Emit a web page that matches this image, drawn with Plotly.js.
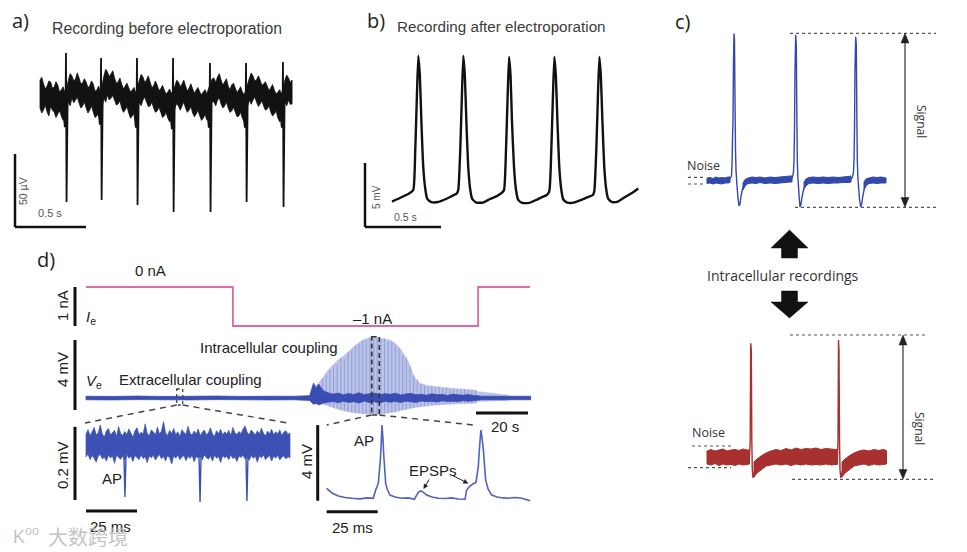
<!DOCTYPE html>
<html><head><meta charset="utf-8">
<script src="https://cdn.plot.ly/plotly-3.0.1.min.js"></script>
<style>html,body{margin:0;padding:0;background:#fff}#chart{width:967px;height:552px}</style>
</head><body><div id="chart"></div>
<script>
// ---------------- DATA ----------------
// a) extracellular recording before electroporation (t in s, V in µV)
const aT = [0,0.0125,0.025,0.0375,0.05,0.0625,0.075,0.0875,0.1,0.1125,0.125,0.1375,0.15,0.1625,0.175,0.1875,0.2,0.2125,0.225,0.2375,0.25,0.2625,0.275,0.2875,0.3,0.3125,0.325,0.3375,0.35,0.3625,0.375,0.3875,0.4,0.4125,0.425,0.4375,0.45,0.4625,0.475,0.4875,0.5,0.5125,0.525,0.5375,0.55,0.5625,0.575,0.5875,0.6,0.6125,0.625,0.6375,0.65,0.6625,0.675,0.6875,0.7,0.7125,0.725,0.7375,0.75,0.7625,0.775,0.7875,0.8,0.8125,0.825,0.8375,0.85,0.8625,0.875,0.8875,0.9,0.9125,0.925,0.9375,0.95,0.9625,0.975,0.9875,1,1.0125,1.025,1.0375,1.05,1.0625,1.075,1.0875,1.1,1.1125,1.125,1.1375,1.15,1.1625,1.175,1.1875,1.2,1.2125,1.225,1.2375,1.25,1.2625,1.275,1.2875,1.3,1.3125,1.325,1.3375,1.35,1.3625,1.375,1.3875,1.4,1.4125,1.425,1.4375,1.45,1.4625,1.475,1.4875,1.5,1.5125,1.525,1.5375,1.55,1.5625,1.575,1.5875,1.6,1.6125,1.625,1.6375,1.65,1.6625,1.675,1.6875,1.7,1.7125,1.725,1.7375,1.75,1.7625,1.775];
const aNoiseUp = [11.6,13.5,8.9,5.5,7.5,11,10.3,6,6.8,10.5,8.2,3.5,4.8,7,3.4,6,11.6,16,14.4,11,12.3,16.5,13.0,9,9.6,12.5,10.3,6.5,7.5,11,8.9,4,4.8,7.5,3.4,8,14.4,19,17.1,14,15.8,18,13.0,9.5,10.3,13,8.9,5.5,7.5,9.5,6.2,3.5,4.8,6.5,2.7,7,11.6,15.5,13.7,10,11.6,14.5,10.3,6.5,7.5,11,8.2,4.5,5.5,8,4.8,2,3.4,5.5,2.1,5,7.5,11.5,10.3,7,8.9,11.5,7.5,4,6.2,9,5.5,2.5,4.8,6.5,3.4,1.5,3.4,5,2.1,6,8.9,12.5,13.0,10,13.7,16,11.6,8,10.3,12.5,7.5,5,8.2,9.5,6.2,3,4.8,7,3.4,1.5,4.8,9,13.0,16.5,14.4,11,11.6,14.5,11.6,8,8.9,10.5,7.5,4.5,6.2,8.5,4.8,2,3.4,5,2.1,6,11.6,15,13.0,10,11.6];
const aNoiseLo = [-7.5,-11,-8.9,-5.5,-10.3,-13,-6.2,-9,-10.3,-14,-11.6,-9.5,-13.0,-16,-14.4,-8,-3.4,-6,-0.7,-4,-2.1,0,-4.1,-7.5,-6.2,-3.5,-7.5,-11,-8.9,-6,-10.3,-14,-13.0,-11,-14.4,-7,-0.7,-3.5,1.4,-2,-0.7,1,-2.1,-5.5,-4.8,-2.5,-7.5,-10.5,-8.9,-6.5,-11.0,-14.5,-13.0,-11,-15.8,-9,-3.4,-6,-2.1,0,-3.4,-6.5,-6.2,-3.5,-7.5,-10.5,-9.6,-7,-10.3,-14,-13.0,-10.5,-14.4,-17,-15.8,-11,-7.5,-4.5,-6.2,-9,-6.2,-3.5,-7.5,-10.5,-8.9,-6.5,-11.0,-13.5,-11.6,-9,-13.0,-16,-14.4,-12,-15.8,-10,-6.2,-3,-3.4,-6,-2.1,-0.5,-4.8,-7.5,-6.2,-3.5,-7.5,-10.5,-9.6,-7,-10.3,-13.5,-13.0,-10.5,-14.4,-17,-11.6,-6,-2.1,-5,-2.1,0,-3.4,-6.5,-4.8,-2.5,-6.2,-9,-8.2,-6,-10.3,-13,-11.6,-9.5,-14.4,-17,-15.8,-9,-3.4,-6,-2.1,-5,-4.8];
const aSpikeT = [0.163,0.175,0.180,0.183,0.187,0.195,null,0.410,0.422,0.427,0.430,0.434,0.442,null,0.663,0.675,0.680,0.683,0.687,0.695,null,0.917,0.929,0.934,0.937,0.941,0.949,null,1.177,1.189,1.194,1.197,1.201,1.209,null,1.431,1.443,1.448,1.451,1.455,1.463,null,1.691,1.703,1.708,1.711,1.715,1.723];
const aSpikeV = [-8,-20.6,-6,30.1,-71.9,2,null,-8,-19,-6,26.7,-70.6,4,null,-9,-21,-7,26.7,-74.0,2,null,-10,-22,-8,26.7,-78.8,2,null,-9,-21,-7,23.3,-78.8,3,null,-9,-21,-7,23.3,-71.9,3,null,-9,-21,-7,24.0,-75.4,3];

// b) recording after electroporation (t in s, V in mV)
const bT = [0,0.039,0.079,0.118,0.140,0.153,0.163,0.173,0.183,0.193,0.206,0.220,0.232,0.259,0.303,0.355,0.395,0.426,0.436,0.449,0.459,0.469,0.479,0.489,0.502,0.515,0.528,0.555,0.599,0.645,0.691,0.722,0.737,0.750,0.760,0.770,0.780,0.789,0.803,0.816,0.829,0.855,0.901,0.947,0.987,1.018,1.035,1.048,1.058,1.068,1.078,1.088,1.101,1.114,1.127,1.153,1.197,1.243,1.289,1.322,1.331,1.344,1.354,1.364,1.374,1.384,1.397,1.410,1.423,1.449,1.487,1.533,1.579,1.620];
const bV = [-0.12,0.08,0.31,0.55,0.78,3.91,7.81,11.25,9.77,6.25,2.50,0.78,0.08,-0.16,-0.16,0.08,0.31,0.51,0.78,3.91,7.81,11.25,9.77,6.25,2.50,0.78,0.08,-0.20,-0.20,0.08,0.31,0.55,0.78,3.91,7.81,11.17,9.69,6.25,2.50,0.78,0.04,-0.23,-0.23,0.00,0.23,0.39,0.70,3.91,7.81,11.17,9.69,6.25,2.50,0.78,0.04,-0.20,-0.20,0.00,0.23,0.39,0.70,3.91,7.81,11.17,9.69,6.25,2.50,0.78,0.08,-0.16,-0.12,0.23,0.55,0.90];

// c) intracellular recordings, blue (t in ms, V in mV)
const cBlueNoiseT  = [0,1.5,3,4.5,6,7.5,9,10.5,11.5,null,18,19,20.5,22.5,24.5,26.5,29,31.5,34,36.5,39,41.5,42.5,null,48.5,49.5,51,53,55.5,58,60.5,63,65.5,68,70.5,72,null,78.5,79.5,81,83,85,87,89.5];
const cBlueNoiseUp = [1.25,1.5,1,1.75,1.25,1.5,1.25,1.75,1.75,null,-1.25,0.5,1.25,1.75,1.5,1.75,1.25,1.75,1.5,1.75,2,2.25,2.25,null,-0.75,0.75,1.5,1.75,1.5,1.75,1.5,1.75,1.5,1.75,2,2.25,null,-0.75,0.75,1.25,1.75,1.5,1.75,1.25];
const cBlueNoiseLo = [-1.5,-1.25,-1.75,-1.25,-1.5,-1.75,-1.25,-1.25,-1,null,-4.75,-2.75,-1.5,-1.25,-1.5,-1,-1.5,-1.25,-1.5,-1.25,-1,-0.75,-0.75,null,-4.25,-2.5,-1.5,-1.25,-1.5,-1.25,-1.5,-1.25,-1.25,-1,-1,-0.75,null,-4.25,-2.5,-1.5,-1.25,-1.5,-1.25,-1.25];
const cBlueSpikeT = [11,11.75,12.25,12.5,12.75,13,13.25,13.5,13.75,14,14.25,14.5,14.75,15,15.5,16,16.5,17,17.75,18.5,19.5,20.5,null,42,42.75,43.25,43.5,43.75,44,44.35,44.65,44.9,45.15,45.4,45.75,46.15,46.5,47,47.5,48.25,49,50,51,null,72,72.75,73.25,73.5,73.75,74,74.35,74.65,74.9,75.15,75.4,75.75,76.25,76.85,77.35,77.85,78.5,79.25,80.25,81.25];
const cBlueSpikeV = [0.25,1.25,2.25,7.75,20.25,30.25,60.25,73.5,70.25,40.25,15.25,5.25,1.25,-2.75,-8.75,-12.75,-11.75,-7.75,-4.25,-2.25,-1,-0.25,null,0.5,1.75,4.25,10.25,25.25,55.25,72.75,67.75,35.25,10.25,2.25,-2.75,-9.25,-13.25,-11.75,-8.25,-4.75,-2.75,-1.25,-0.25,null,0.5,1.75,4.25,10.25,25.25,55.25,71.9,67.75,35.25,10.25,2.25,-2.75,-9.25,-13.25,-11.75,-8.25,-4.75,-2.75,-1.25,-0.25];

// c) intracellular recordings, red (t in ms, V in mV)
const cRedNoiseT  = [0,2,4,6,8,10,12,14,16,18,20,21.25,null,23.5,25,27,29.5,32,34.5,37,39.5,42,44.5,47,49.5,52,54.5,57,59.5,62,64.5,65.25,null,67.5,69,71,73.5,76,78.5,81,83.5,86,88,89.75];
const cRedNoiseUp = [3.25,4,3.25,3.75,4.25,3.25,3.75,4,3.5,4.25,3.75,3.75,null,-2.25,-0.75,0.75,2.25,3.25,4,3.5,4.5,3.75,4.75,4,4.5,4.25,4.75,4,4.5,4.25,4,4,null,-2.25,-0.75,0.75,2.25,3.25,3.75,3.25,4,3.5,4,3.5];
const cRedNoiseLo = [-3.25,-3.75,-3,-4,-3.25,-3.75,-3.5,-4,-3.25,-3.75,-3.5,-3.25,null,-9.75,-7.75,-6.25,-4.25,-3.75,-3.25,-3.75,-3.25,-4,-3.25,-3.75,-3.25,-3.75,-3.5,-3.75,-3.25,-3.75,-3.5,-3.5,null,-9.75,-7.75,-6.25,-4.25,-3.75,-3.25,-4,-3.25,-3.75,-3.5,-3.25];
const cRedSpikeT = [21.25,21.6,21.85,22.15,22.4,22.65,23,23.5,24.25,null,65.25,65.5,65.75,66,66.25,66.5,66.9,67.4,68.15];
const cRedSpikeV = [0.25,8.75,57.1,53.75,8.75,-6.25,-10.25,-8.25,-5.25,null,0.25,8.75,58.75,53.75,8.75,-6.25,-10.25,-8.25,-5.25];

// d) current step Ie (t in s, I in nA)
const ieT = [0,56.5,150.8,170.8];
const ieI = [0,-1,0,0];
// d) Ve burst envelope (t in s, V in mV)
const burstUpT = [86.9,87.4,89.2,91.2,93.1,95.0,96.9,98.8,100.8,102.3,103.8,105.4,106.9,108.5,110.0,111.9,114.2,116.9,118.8,120.8,122.3,124.0,125.0,125.9,127.3,128.5,131.5,134.9,138.1,141.3,145.4,149.6,150.9,152.3,157.3,162.3,163.8];
const burstUpV = [0,0.69,0.80,1.20,1.60,1.89,2.17,2.36,2.63,2.84,3.03,3.22,3.34,3.43,3.46,3.46,3.40,3.31,3.14,2.84,2.51,2.07,1.71,1.31,1.03,0.84,0.71,0.65,0.60,0.55,0.51,0.46,0.36,0.34,0.26,0.17,0];
const burstLoT = [86.9,87.4,91.2,95.0,100.3,103.8,107.9,113.1,118.2,121.9,125.9,134.9,141.9,149.6,150.9,157.3,162.3,163.8];
const burstLoV = [0,-0.34,-0.34,-0.55,-0.78,-0.86,-0.93,-0.93,-0.82,-0.69,-0.55,-0.40,-0.34,-0.30,-0.20,-0.17,-0.14,0];
const burstSpikeT   = [88,89.5,91,92.4,93.8,95.2,96.6,98,99.4,100.8,102.2,103.6,105,106.4,107.8,109.2,110.6,112,113.4,114.8,116.2,117.6,119,120.4,121.8,123.2,124.6,126,127.4,128.8,130.2,131.6,133,134.4,135.8,137.2,138.6,140,141.4,142.8,144.2,145.6,147,148.4,149.8];
const burstSpikeTop = [0.7,0.5,1.1,1.3,1.6,1.8,1.9,2.3,2.2,2.6,2.7,3.0,3.1,3.3,3.3,3.45,3.4,3.45,3.35,3.4,3.2,3.25,3.0,2.85,2.4,2.3,1.8,1.3,1.0,0.8,0.7,0.65,0.7,0.6,0.65,0.55,0.6,0.5,0.55,0.5,0.45,0.5,0.45,0.4,0.45];
const burstSpikeBot = [-0.3,-0.3,-0.35,-0.4,-0.5,-0.55,-0.6,-0.65,-0.7,-0.75,-0.8,-0.85,-0.85,-0.9,-0.9,-0.9,-0.92,-0.9,-0.9,-0.88,-0.85,-0.82,-0.8,-0.75,-0.7,-0.65,-0.6,-0.55,-0.5,-0.48,-0.45,-0.42,-0.4,-0.4,-0.38,-0.36,-0.35,-0.34,-0.33,-0.32,-0.32,-0.31,-0.3,-0.3,-0.3];
// d) Ve baseline noise band
const veNoiseT  = [0,10,20,30,40,50,60,70,80,86,87.5,88.5,89.5,91,93,95,97,99,101,103,105,107,109,111,113,115,117,119,121,123,125,127,129,131,133,135,137,139,141,143,145,147,149,150.5,152,160,171];
const veNoiseUp = [0.10,0.09,0.11,0.09,0.10,0.11,0.09,0.10,0.10,0.13,0.85,0.55,0.80,0.45,0.30,0.22,0.28,0.18,0.26,0.20,0.30,0.19,0.24,0.28,0.18,0.25,0.21,0.27,0.17,0.23,0.26,0.18,0.22,0.16,0.24,0.19,0.21,0.15,0.22,0.18,0.16,0.20,0.15,0.13,0.10,0.10,0.10];
const veNoiseLo = [-0.10,-0.11,-0.09,-0.10,-0.11,-0.09,-0.10,-0.11,-0.10,-0.14,-0.35,-0.30,-0.40,-0.30,-0.24,-0.20,-0.27,-0.19,-0.25,-0.21,-0.29,-0.18,-0.26,-0.22,-0.28,-0.19,-0.24,-0.20,-0.26,-0.18,-0.22,-0.25,-0.17,-0.21,-0.19,-0.23,-0.16,-0.20,-0.18,-0.21,-0.15,-0.18,-0.16,-0.13,-0.10,-0.10,-0.10];
// d) inset 1, extracellular coupling (t in ms, V in mV)
const ex1T = [0,1,2,3,4,5,6,7,8,9,10,11,12,13,14,15,16,17,18,19,20,21,22,23,24,25,26,27,28,29,30,31,32,33,34,35,36,37,38,39,40,41,42,43,44,45,46,47,48,49,50,51,52,53,54,55,56,57,58,59,60,61,62,63,64,65,66,67,68,69,70,71,72,73,74,75,76,77,78,79,80,81,82,83,84,85,86,87,88,89,90,91,92,93,94,95,96,97,98,99,100];
const ex1Up = [0.030,0.042,0.025,0.036,0.048,0.028,0.033,0.055,0.030,0.022,0.038,0.045,0.027,0.034,0.040,0.024,0.050,0.031,0.026,0.037,0.029,0.044,0.033,0.021,0.039,0.047,0.028,0.035,0.030,0.058,0.032,0.025,0.041,0.036,0.027,0.049,0.030,0.038,0.064,0.033,0.026,0.040,0.031,0.045,0.028,0.036,0.023,0.042,0.034,0.029,0.051,0.032,0.027,0.038,0.030,0.044,0.025,0.035,0.041,0.028,0.033,0.047,0.030,0.024,0.039,0.031,0.043,0.027,0.036,0.030,0.040,0.026,0.048,0.033,0.029,0.037,0.031,0.044,0.052,0.035,0.028,0.041,0.034,0.027,0.039,0.030,0.046,0.032,0.025,0.038,0.031,0.043,0.028,0.036,0.030,0.041,0.026,0.035,0.039,0.029,0.033];
const ex1Lo = [-0.032,-0.025,-0.040,-0.029,-0.036,-0.047,-0.030,-0.026,-0.038,-0.033,-0.044,-0.028,-0.035,-0.031,-0.050,-0.027,-0.034,-0.039,-0.030,-0.042,-0.026,-0.036,-0.031,-0.045,-0.029,-0.034,-0.040,-0.027,-0.037,-0.032,-0.048,-0.030,-0.035,-0.028,-0.041,-0.033,-0.026,-0.038,-0.031,-0.044,-0.029,-0.035,-0.052,-0.030,-0.036,-0.027,-0.040,-0.033,-0.029,-0.043,-0.031,-0.037,-0.028,-0.046,-0.032,-0.035,-0.030,-0.041,-0.027,-0.034,-0.039,-0.030,-0.044,-0.028,-0.036,-0.032,-0.048,-0.029,-0.035,-0.031,-0.040,-0.027,-0.037,-0.033,-0.045,-0.030,-0.034,-0.028,-0.039,-0.032,-0.042,-0.029,-0.036,-0.031,-0.047,-0.030,-0.035,-0.027,-0.040,-0.033,-0.029,-0.044,-0.031,-0.036,-0.028,-0.041,-0.033,-0.030,-0.038,-0.032,-0.035];
const ex1SpikeT = [18.6,19.1,19.6,null,55.4,55.9,56.4,null,78.4,78.9,79.4];
const ex1SpikeV = [-0.03,-0.142,-0.03,null,-0.03,-0.156,-0.03,null,-0.03,-0.153,-0.03];
// d) inset 2, intracellular coupling (t in ms, V in mV)
const in2T = [0,2.6,5.7,9.0,12.3,16.3,19.8,22.8,24.0,25.3,26.3,26.8,27.1,27.6,27.9,28.9,29.8,31.0,33.5,36.8,39.9,43.0,44.1,45.0,46.2,47.4,49.0,51.6,54.7,58.0,61.4,64.4,67.8,68.6,70.2,71.7,73.2,74.3,75.0,75.6,76.1,76.8,77.9,79.1,80.9,83.5,86.4,89.0,92.3,95.6,97.7,99.7];
const in2V = [0.53,0.28,0.12,0.04,0,-0.03,0.02,0,0.44,0.79,2.03,3.09,3.88,3.09,2.38,0.79,0.44,0.17,0.07,0,0.02,-0.05,0.17,0.33,0.39,0.31,0.17,0.07,0,-0.01,0.02,-0.04,-0.05,0.44,0.65,0.76,0.85,1.67,2.82,3.61,3.24,2.56,0.97,0.49,0.17,0.07,0.02,0,0.04,0,-0.06,-0.13];
// scale bar values
const scaleA = {t:0.5, v:50}, scaleB = {t:0.5, v:5};
const scaleD = {i:1, v:4, t:20, exV:0.2, exT:25, inV:4, inT:25};

// ---------------- LAYOUT ----------------
const W=967, H=552;
const P = {
  a:{n:1, box:[5,298,42,234], px0:40, ppu:142, py0:97, ppv:1.46},
  b:{n:2, box:[352,648,42,234], px0:392, ppu:152, py0:200, ppv:12.8},
  c1:{n:3, box:[680,962,25,215], px0:707, ppu:2, py0:180.5, ppv:2},
  c2:{n:4, box:[680,962,325,492], px0:707, ppu:2, py0:457.5, ppv:2},
  ie:{n:5, box:[40,545,278,336], px0:86, ppu:2.6, py0:287, ppv:39},
  ve:{n:6, box:[40,545,336,420], px0:86, ppu:2.6, py0:398, ppv:17.5},
  i1:{n:7, box:[40,300,420,520], px0:86, ppu:2.04, py0:445, ppv:366},
  i2:{n:8, box:[300,545,420,520], px0:326.7, ppu:2.04, py0:498.3, ppv:18.9}
};
const layout = {width:W, height:H, margin:{l:0,r:0,t:0,b:0}, paper_bgcolor:'#fff', plot_bgcolor:'rgba(0,0,0,0)', showlegend:false, shapes:[], annotations:[]};
for (const k in P) {
  const p = P[k], [L,R,T,B] = p.box, s = p.n===1 ? '' : p.n;
  layout['xaxis'+s] = {domain:[L/W,R/W], range:[(L-p.px0)/p.ppu,(R-p.px0)/p.ppu], autorange:false, visible:false, fixedrange:true, anchor:'y'+s};
  layout['yaxis'+s] = {domain:[1-B/H,1-T/H], range:[(p.py0-B)/p.ppv,(p.py0-T)/p.ppv], autorange:false, visible:false, fixedrange:true, anchor:'x'+s};
  p.xa = 'x'+s; p.ya = 'y'+s;
}
const ux = (p,px)=>(px-p.px0)/p.ppu, uy = (p,py)=>(p.py0-py)/p.ppv;
const X = px=>px/W, Y = py=>1-py/H;

const traces = [];
function line(p, x, y, color, w, extra) {
  traces.push(Object.assign({type:'scatter', mode:'lines', x, y, xaxis:p.xa, yaxis:p.ya, hoverinfo:'skip', line:{color, width:w, simplify:false}}, extra||{}));
}
function band(p, t, up, lo, color, lw) {
  const xs=[], ys=[]; let seg=[];
  const flush=()=>{ if(!seg.length) return;
    seg.forEach(i=>{xs.push(t[i]); ys.push(up[i]);});
    for (let j=seg.length-1;j>=0;j--){xs.push(t[seg[j]]); ys.push(lo[seg[j]]);}
    xs.push(t[seg[0]]); ys.push(up[seg[0]]); xs.push(null); ys.push(null); seg=[]; };
  for (let i=0;i<t.length;i++){ if (t[i]===null) flush(); else seg.push(i); }
  flush();
  line(p, xs, ys, color, lw, {fill:'toself', fillcolor:color});
}
function bar(p, x0px, y0px, dxU, dyU, w) {
  const x0=ux(p,x0px), y0=uy(p,y0px);
  layout.shapes.push({type:'line', xref:p.xa, yref:p.ya, x0, y0, x1:x0+dxU, y1:y0+dyU, line:{color:'#111', width:w}});
}
function pl(x0,y0,x1,y1,color,w,dash) {
  layout.shapes.push({type:'line', xref:'paper', yref:'paper', x0:X(x0), y0:Y(y0), x1:X(x1), y1:Y(y1), line:{color, width:w, dash:dash||'solid'}});
}
function prect(x0,y0,x1,y1,color,w,dash) {
  layout.shapes.push({type:'rect', xref:'paper', yref:'paper', x0:X(x0), y0:Y(y0), x1:X(x1), y1:Y(y1), line:{color, width:w, dash}, fillcolor:'rgba(0,0,0,0)'});
}
function poly(pts, color) {
  const d = pts.map((q,i)=>(i?'L':'M')+X(q[0]).toFixed(5)+','+Y(q[1]).toFixed(5)).join(' ')+' Z';
  layout.shapes.push({type:'path', xref:'paper', yref:'paper', path:d, fillcolor:color, line:{color, width:0.5}});
}
const SANS = 'Liberation Sans, Arial, sans-serif';
const CAL = 'Open Sans, Noto Sans, sans-serif';
function txt(s, x, y, size, o) {
  o = o||{};
  layout.annotations.push({text:s, x:X(x), y:Y(y), xref:'paper', yref:'paper', showarrow:false, xanchor:'center', yanchor:'middle',
    textangle:o.angle||0, font:{family:o.family||SANS, size, color:o.color||'#222'}});
}
function arrowAnn(hx, hy, tx, ty) {
  layout.annotations.push({text:'', x:X(hx), y:Y(hy), xref:'paper', yref:'paper', showarrow:true, ax:tx-hx, ay:ty-hy,
    arrowhead:2, arrowsize:1, arrowwidth:1, arrowcolor:'#222', standoff:0});
}

// ----- panel a -----
band(P.a, aT, aNoiseUp, aNoiseLo, '#121212', 0.8);
line(P.a, aSpikeT, aSpikeV, '#121212', 1.8);
bar(P.a, 15, 227, 0, scaleA.v, 2.5);
bar(P.a, 15, 227, scaleA.t, 0, 2.5);
// ----- panel b -----
line(P.b, bT, bV, '#111', 2.4, {line:{color:'#111', width:2.4, shape:'spline', smoothing:0.5, simplify:false}});
bar(P.b, 365, 227, 0, scaleB.v, 2.5);
bar(P.b, 365, 227, scaleB.t, 0, 2.5);
// ----- panel c -----
const BLUE='#3249ab', RED='#a8302e';
band(P.c1, cBlueNoiseT, cBlueNoiseUp, cBlueNoiseLo, BLUE, 1);
line(P.c1, cBlueSpikeT, cBlueSpikeV, BLUE, 1.4);
band(P.c2, cRedNoiseT, cRedNoiseUp, cRedNoiseLo, RED, 1);
line(P.c2, cRedSpikeT, cRedSpikeV, RED, 1.4);
// ----- panel d -----
line(P.ie, ieT, ieI, '#e26aa4', 1.8, {line:{color:'#e26aa4', width:1.8, shape:'hv'}});
bar(P.ie, 75, 287, 0, -scaleD.i, 3);
{
  const bx = burstUpT.concat(burstLoT.slice().reverse()), by = burstUpV.concat(burstLoV.slice().reverse());
  line(P.ve, bx, by, '#bcc3e8', 0.5, {fill:'toself', fillcolor:'#bcc3e8'});
  const sx=[], sy=[];
  burstSpikeT.forEach((t,i)=>{ sx.push(t,t,null); sy.push(burstSpikeBot[i], burstSpikeTop[i], null); });
  line(P.ve, sx, sy, '#96a1d8', 1.1);
}
band(P.ve, veNoiseT, veNoiseUp, veNoiseLo, '#3a4db2', 0.8);
bar(P.ve, 75, 410, 0, scaleD.v, 3);
bar(P.ve, 476, 413, scaleD.t, 0, 3);
band(P.i1, ex1T, ex1Up, ex1Lo, '#3d50b4', 0.7);
line(P.i1, ex1SpikeT, ex1SpikeV, '#3d50b4', 1.4);
bar(P.i1, 75, 500, 0, scaleD.exV, 3);
bar(P.i1, 86, 511, scaleD.exT, 0, 3);
line(P.i2, in2T, in2V, '#5061bf', 1.6);
bar(P.i2, 317.7, 500.7, 0, scaleD.inV, 3);
bar(P.i2, 326.7, 511.7, scaleD.inT, 0, 3);

// ----- decorations c -----
const DOT='#555';
pl(790,33.3,936,33.3,DOT,1.2,'dot'); pl(795,207.3,936,207.3,DOT,1.2,'dot');
pl(688,177.3,705,177.3,DOT,1.2,'dot'); pl(688,184,705,184,DOT,1.2,'dot');
pl(905,41,905,199,'#333',1.2); poly([[905,33.3],[901,43],[909,43]],'#222'); poly([[905,207.3],[901,197.5],[909,197.5]],'#222');
pl(790,335,928,335,DOT,1.2,'dot'); pl(792,479.3,933,479.3,DOT,1.2,'dot');
pl(692,446,733,446,DOT,1.2,'dot'); pl(688,467.7,731,467.7,DOT,1.2,'dot');
pl(903,343,903,471,'#333',1.2); poly([[903,335],[899,345],[907,345]],'#222'); poly([[903,479.3],[899,469.5],[907,469.5]],'#222');
poly([[771,248],[789.5,230],[808,248],[797.5,248],[797.5,258],[781.5,258],[781.5,248]],'#111');
poly([[781.5,291],[797.5,291],[797.5,302],[808,302],[789.5,318],[771,302],[781.5,302]],'#111');
// ----- decorations d -----
const DSH='#444';
prect(176.7,389,182.7,405,DSH,1.3,'dot');
pl(176.7,405,85,423,DSH,1.5,'6px,5px'); pl(182.7,405,288,423,DSH,1.5,'6px,5px');
prect(371.7,336.7,379.3,415,'#333',1.6,'5px,3px');
pl(371.7,415,326.7,425,DSH,1.5,'6px,5px'); pl(379.3,415,473.3,425,DSH,1.5,'6px,5px');
arrowAnn(423.5,489,430,478); arrowAnn(468.3,483.5,451.7,475);

// ----- text -----
txt('a)',20,20,20,{family:CAL}); txt('b)',376,20,20,{family:CAL}); txt('c)',683,22,20,{family:CAL}); txt('d)',46,259,20,{family:CAL});
txt('Recording before electroporation',167,28,15.8,{color:'#3c3c3c'});
txt('Recording after electroporation',501,27,15.2,{color:'#3c3c3c'});
txt('50 µV',23,191,10.5,{angle:-90,color:'#555'}); txt('0.5 s',50,213,11,{color:'#555'});
txt('5 mV',377,197,10,{angle:-90,color:'#555'}); txt('0.5 s',405,217,10.5,{color:'#555'});
txt('Noise',703,165,12.5,{family:CAL,color:'#333'}); txt('Signal',921,121,12,{family:CAL,angle:90,color:'#333'});
txt('Intracellular recordings',783,275,14,{family:CAL,color:'#333'});
txt('Noise',708,432,12.5,{family:CAL,color:'#333'}); txt('Signal',920,428,12,{family:CAL,angle:90,color:'#333'});
const DF = 15;
txt('0 nA',150,270,DF); txt('–1 nA',372,318,DF); txt('1 nA',62,306,DF,{angle:-90});
txt('<i>I</i><sub>e</sub>',91,317,DF); txt('4 mV',62,370,DF,{angle:-90}); txt('<i>V</i><sub>e</sub>',94,381,DF);
txt('Extracellular coupling',190,379,DF); txt('Intracellular coupling',269,347,DF);
txt('20 s',505,426,DF); txt('0.2 mV',62,465,DF,{angle:-90}); txt('AP',112,478,DF); txt('25 ms',110,526,DF);
txt('4 mV',306,462,DF,{angle:-90}); txt('AP',364,440,DF); txt('EPSPs',433,470,DF); txt('25 ms',352,527,DF);
txt('K<sup>oo</sup>',26,535,18,{color:'rgba(185,185,185,0.85)'});
txt('大数跨境',88,536,20,{family:'Noto Sans CJK SC',color:'rgba(185,185,185,0.85)'});

Plotly.newPlot('chart', traces, layout, {staticPlot:true, displayModeBar:false});
</script></body></html>
